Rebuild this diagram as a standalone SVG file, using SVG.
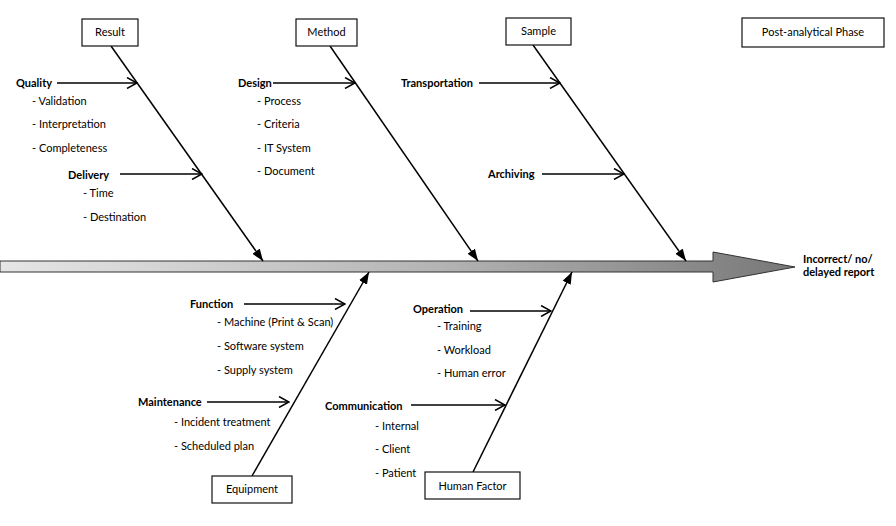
<svg xmlns="http://www.w3.org/2000/svg" width="896" height="526" viewBox="0 0 896 526">
<style>
text{font-family:Lato,"Liberation Sans",sans-serif;font-size:11px;fill:#000}
.b{font-weight:bold}
.box{fill:#fff;stroke:#111;stroke-width:1.2}
.c{text-anchor:middle}
.sub{stroke:#000;stroke-width:1.5;fill:none;marker-end:url(#open)}
.main{stroke:#000;stroke-width:1.5;fill:none;marker-end:url(#solid)}
</style>
<defs>
<linearGradient id="g" gradientUnits="userSpaceOnUse" x1="0" y1="0" x2="795" y2="0">
<stop offset="0" stop-color="#e6e6e6"/>
<stop offset="0.55" stop-color="#b4b4b4"/>
<stop offset="1" stop-color="#787878"/>
</linearGradient>
<marker id="open" markerUnits="userSpaceOnUse" viewBox="0 0 12 12" refX="11" refY="6" markerWidth="12" markerHeight="12" orient="auto">
<path d="M1,0.5 L11,6 L1,11.5" fill="none" stroke="#000" stroke-width="1.5"/>
</marker>
<marker id="solid" markerUnits="userSpaceOnUse" viewBox="0 0 12 10" refX="12" refY="5" markerWidth="12" markerHeight="10" orient="auto">
<path d="M0,0.5 L12,5 L0,9.5 Z" fill="#000"/>
</marker>
</defs>

<g id="spine">
<polygon points="0,261 713,261 713,252 795,267 713,282 713,272 0,272" fill="url(#g)" stroke="#333" stroke-width="1"/>
</g>

<g id="connectors">
<line class="main" x1="111" y1="46" x2="263" y2="261"/>
<line class="main" x1="330" y1="46" x2="478" y2="261"/>
<line class="main" x1="533" y1="45" x2="686" y2="261"/>
<line class="main" x1="252" y1="476" x2="369" y2="272"/>
<line class="main" x1="473" y1="472" x2="572" y2="272"/>
<line class="sub" x1="57" y1="83" x2="137" y2="83"/>
<line class="sub" x1="120" y1="174" x2="202" y2="174"/>
<line class="sub" x1="273" y1="83" x2="355" y2="83"/>
<line class="sub" x1="479" y1="83" x2="560" y2="83"/>
<line class="sub" x1="542" y1="174" x2="624" y2="174"/>
<line class="sub" x1="244" y1="304" x2="345" y2="304"/>
<line class="sub" x1="207" y1="402" x2="289" y2="402"/>
<line class="sub" x1="470" y1="311" x2="551" y2="311"/>
<line class="sub" x1="411" y1="405" x2="505" y2="405"/>
</g>

<g id="result">
<rect class="box" x="82" y="19" width="56" height="27"/>
<text class="c" x="110" y="36">Result</text>
</g>
<g id="method">
<rect class="box" x="296" y="19" width="61" height="27"/>
<text class="c" x="326.5" y="36">Method</text>
</g>
<g id="sample">
<rect class="box" x="506" y="18" width="65" height="27"/>
<text class="c" x="538.5" y="35">Sample</text>
</g>
<g id="phase">
<rect class="box" x="742" y="18" width="142" height="29"/>
<text class="c" x="813" y="36">Post-analytical Phase</text>
</g>
<g id="equipment">
<rect class="box" x="212" y="476" width="80" height="27"/>
<text class="c" x="252" y="493">Equipment</text>
</g>
<g id="human-factor">
<rect class="box" x="425" y="472" width="95" height="27"/>
<text class="c" x="472.5" y="490">Human Factor</text>
</g>
<g id="outcome">
<text class="b" x="803" y="263">Incorrect/ no/</text>
<text class="b" x="803" y="276">delayed report</text>
</g>

<g id="quality">
<text class="b" x="16" y="87">Quality</text>
<text x="32" y="105">- Validation</text>
<text x="32" y="128">- Interpretation</text>
<text x="32" y="152">- Completeness</text>
</g>
<g id="delivery">
<text class="b" x="68" y="179">Delivery</text>
<text x="83" y="197">- Time</text>
<text x="83" y="221">- Destination</text>
</g>
<g id="design">
<text class="b" x="238" y="87">Design</text>
<text x="257" y="105">- Process</text>
<text x="257" y="128">- Criteria</text>
<text x="257" y="152">- IT System</text>
<text x="257" y="175">- Document</text>
</g>
<g id="transportation">
<text class="b" x="401" y="87">Transportation</text>
</g>
<g id="archiving">
<text class="b" x="488" y="178">Archiving</text>
</g>
<g id="function">
<text class="b" x="190" y="308">Function</text>
<text x="217" y="326">- Machine (Print &amp; Scan)</text>
<text x="217" y="350">- Software system</text>
<text x="217" y="374">- Supply system</text>
</g>
<g id="maintenance">
<text class="b" x="138" y="406">Maintenance</text>
<text x="174" y="426">- Incident treatment</text>
<text x="174" y="450">- Scheduled plan</text>
</g>
<g id="operation">
<text class="b" x="413" y="313">Operation</text>
<text x="437" y="330">- Training</text>
<text x="437" y="354">- Workload</text>
<text x="437" y="377">- Human error</text>
</g>
<g id="communication">
<text class="b" x="325" y="410">Communication</text>
<text x="375" y="430">- Internal</text>
<text x="375" y="453">- Client</text>
<text x="375" y="477">- Patient</text>
</g>
</svg>
